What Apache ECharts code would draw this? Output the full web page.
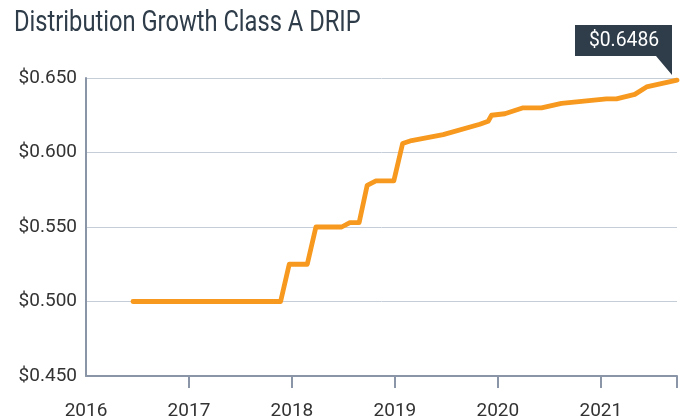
<!DOCTYPE html>
<html>
<head>
<meta charset="utf-8">
<script src="https://cdn.jsdelivr.net/npm/echarts@6/dist/echarts.min.js"></script>
<style>html,body{margin:0;padding:0;background:#fff}#c{width:684px;height:416px}</style>
</head>
<body>
<div id="c"></div>
<script>
const titleText = 'Distribution Growth Class A DRIP';
const years = [2016.456, 2017.890, 2017.974, 2018.149, 2018.233, 2018.483, 2018.563, 2018.653, 2018.731, 2018.816, 2018.990, 2019.075, 2019.162, 2019.469, 2019.825, 2019.906, 2019.939, 2020.068, 2020.246, 2020.424, 2020.618, 2021.055, 2021.152, 2021.330, 2021.444, 2021.740];
const values = [0.500, 0.500, 0.525, 0.525, 0.550, 0.550, 0.553, 0.553, 0.578, 0.581, 0.581, 0.606, 0.608, 0.612, 0.619, 0.621, 0.625, 0.626, 0.630, 0.630, 0.633, 0.636, 0.636, 0.639, 0.644, 0.6486];
const yTicks = [0.450, 0.500, 0.550, 0.600, 0.650];
const xTickLabels = [2016, 2017, 2018, 2019, 2020, 2021];
const xAxisEnd = 2021.74;
const calloutText = '$0.6486';

const chart = echarts.init(document.getElementById('c'), null, {renderer: 'canvas'});
const axisColor = '#8a96a8';
const labelFont = 'Roboto';
chart.setOption({
  animation: false,
  grid: {left: 86, right: 7, top: 78, bottom: 40, containLabel: false, outerBoundsMode: 'none'},
  xAxis: {
    type: 'value', min: xTickLabels[0], max: xAxisEnd, interval: 1,
    axisLine: {show: true, lineStyle: {color: axisColor, width: 2}},
    axisTick: {show: true, length: 12, lineStyle: {color: axisColor, width: 2},
      customValues: xTickLabels.slice(1).concat([xAxisEnd])},
    splitLine: {show: false},
    axisLabel: {
      margin: 26, color: '#333', fontFamily: labelFont, fontSize: 19,
      customValues: xTickLabels,
      formatter: v => String(Math.round(v))
    }
  },
  yAxis: {
    type: 'value', min: yTicks[0], max: yTicks[yTicks.length - 1], interval: 0.05,
    axisLine: {show: true, lineStyle: {color: axisColor, width: 2}},
    axisTick: {show: false},
    splitLine: {show: true, lineStyle: {color: '#c5cdd9', width: 1}},
    axisLabel: {margin: 9, color: '#333', fontFamily: labelFont, fontSize: 19, formatter: v => '$' + v.toFixed(3)}
  },
  series: [{
    type: 'line',
    data: years.map((x, i) => [x, values[i]]),
    showSymbol: false,
    lineStyle: {color: '#f7991e', width: 4.8, cap: 'round', join: 'round'}
  }]
});

const last = chart.convertToPixel({gridIndex: 0}, [years[years.length - 1], values[values.length - 1]]);
chart.setOption({
  graphic: [
    {type: 'text', x: 14, y: 23, scaleX: 0.79, style: {text: titleText, fill: '#2f3d4a', font: '30px Roboto', align: 'left', verticalAlign: 'middle'}},
    {
      type: 'group', x: last[0], y: last[1],
      children: [
        {type: 'polygon', shape: {points: [[-102, -55], [-5, -55], [-5, -5], [-21, -24], [-102, -24]]}, style: {fill: '#2f3d4a'}},
        {type: 'text', x: -53, y: -39.5, scaleX: 0.92, style: {text: calloutText, fill: '#fff', font: '21px Roboto', align: 'center', verticalAlign: 'middle'}}
      ]
    }
  ]
});
</script>
</body>
</html>
